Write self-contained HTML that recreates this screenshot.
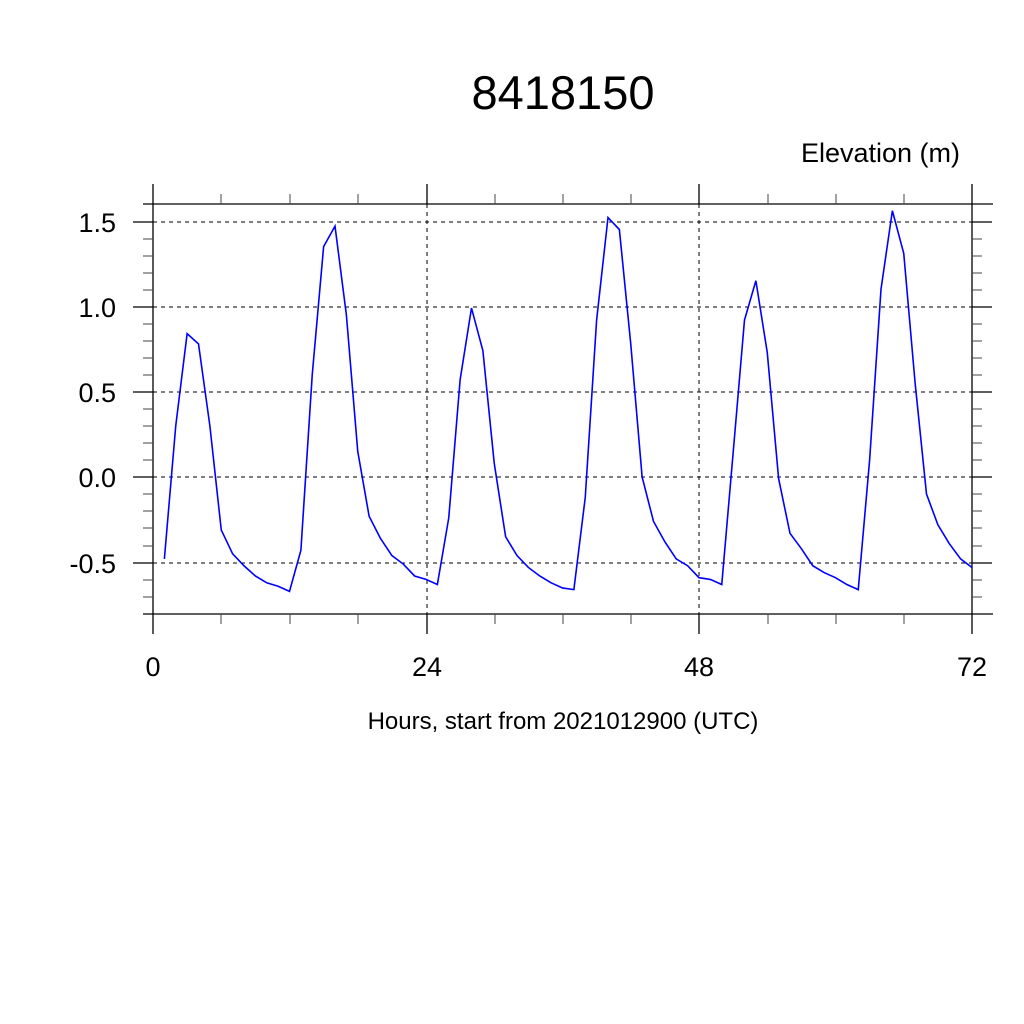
<!DOCTYPE html>
<html><head><meta charset="utf-8"><style>
html,body{margin:0;padding:0;background:#fff;}
svg{display:block;font-family:"Liberation Sans",sans-serif;}
</style></head><body>
<svg width="1024" height="1024" viewBox="0 0 1024 1024" xmlns="http://www.w3.org/2000/svg">
<rect width="1024" height="1024" fill="#fff"/>
<text x="563" y="109" font-size="47" text-anchor="middle">8418150</text>
<text x="960" y="162" font-size="27" text-anchor="end">Elevation (m)</text>
<g stroke="#000" stroke-width="1" stroke-dasharray="4,4">
<line x1="153" y1="222" x2="972" y2="222"/>
<line x1="153" y1="307" x2="972" y2="307"/>
<line x1="153" y1="392" x2="972" y2="392"/>
<line x1="153" y1="477" x2="972" y2="477"/>
<line x1="153" y1="563" x2="972" y2="563"/>
<line x1="427" y1="204" x2="427" y2="614"/>
<line x1="699" y1="204" x2="699" y2="614"/>
</g>
<g stroke="#000" stroke-width="1.3" fill="none">
<line x1="143" y1="204" x2="993" y2="204"/>
<line x1="143" y1="614" x2="993" y2="614"/>
<line x1="153" y1="184" x2="153" y2="634"/>
<line x1="972" y1="184" x2="972" y2="634"/>
<line x1="427" y1="184" x2="427" y2="204"/>
<line x1="427" y1="614" x2="427" y2="634"/>
<line x1="699" y1="184" x2="699" y2="204"/>
<line x1="699" y1="614" x2="699" y2="634"/>
<path d="M133 222H153M133 307H153M133 392H153M133 477H153M133 563H153M972 222H992M972 307H992M972 392H992M972 477H992M972 563H992"/>
</g>
<g stroke="#444" stroke-width="1" fill="none">
<path d="M143 239H153M143 256H153M143 273H153M143 290H153M143 324H153M143 341H153M143 358H153M143 375H153M143 409H153M143 426H153M143 443H153M143 460H153M143 494H153M143 511H153M143 528H153M143 546H153M143 580H153M143 597H153
M972 239H982M972 256H982M972 273H982M972 290H982M972 324H982M972 341H982M972 358H982M972 375H982M972 409H982M972 426H982M972 443H982M972 460H982M972 494H982M972 511H982M972 528H982M972 546H982M972 580H982M972 597H982
M221 194V204M290 194V204M358 194V204M495 194V204M563 194V204M631 194V204M768 194V204M836 194V204M904 194V204
M221 614V624M290 614V624M358 614V624M495 614V624M563 614V624M631 614V624M768 614V624M836 614V624M904 614V624"/>
</g>
<g font-size="27" text-anchor="end">
<text x="116" y="232">1.5</text>
<text x="116" y="317">1.0</text>
<text x="116" y="402">0.5</text>
<text x="116" y="487">0.0</text>
<text x="116" y="573">-0.5</text>
</g>
<g font-size="27" text-anchor="middle">
<text x="153" y="676">0</text>
<text x="427" y="676">24</text>
<text x="699" y="676">48</text>
<text x="972" y="676">72</text>
</g>
<text x="563" y="729" font-size="24" text-anchor="middle">Hours, start from 2021012900 (UTC)</text>
<g transform="translate(153,477) scale(11.375,-170.67)">
<polyline fill="none" stroke="#0000ff" stroke-width="1.6" vector-effect="non-scaling-stroke" points="
1,-0.48 2,0.3 3,0.84 4,0.78 5,0.3 6,-0.31 7,-0.45 8,-0.52 9,-0.58 10,-0.62 11,-0.64 12,-0.67
13,-0.43 14,0.6 15,1.35 16,1.47 17,0.95 18,0.15 19,-0.23 20,-0.36 21,-0.46 22,-0.51 23,-0.58 24,-0.6
25,-0.63 26,-0.24 27,0.57 28,0.99 29,0.74 30,0.08 31,-0.35 32,-0.46 33,-0.53 34,-0.58 35,-0.62 36,-0.65
37,-0.66 38,-0.12 39,0.92 40,1.52 41,1.45 42,0.78 43,0.0 44,-0.26 45,-0.38 46,-0.48 47,-0.52 48,-0.59
49,-0.6 50,-0.63 51,0.14 52,0.92 53,1.15 54,0.73 55,-0.01 56,-0.33 57,-0.42 58,-0.52 59,-0.56 60,-0.59
61,-0.63 62,-0.66 63,0.1 64,1.1 65,1.56 66,1.31 67,0.55 68,-0.1 69,-0.28 70,-0.39 71,-0.48 72,-0.53"/>
</g>
</svg>
</body></html>
